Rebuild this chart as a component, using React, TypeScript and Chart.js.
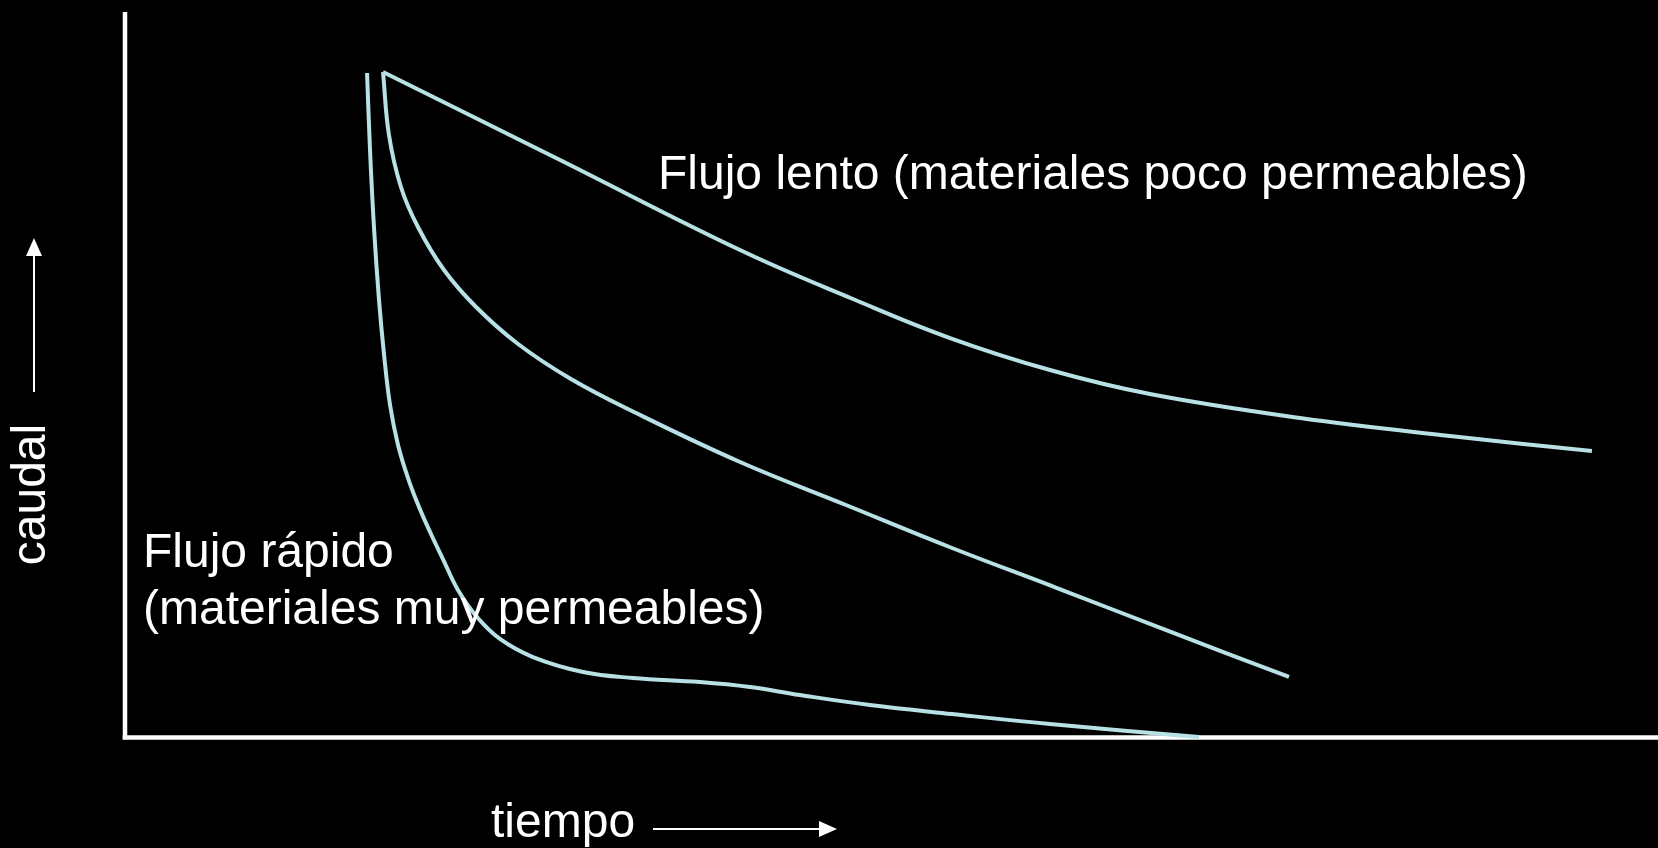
import React, { useEffect, useRef } from "react";
import { Chart, registerables } from "chart.js";

Chart.register(...registerables);

// Time (0-100) and flow (0-100) values
const slowTime = [16.83, 28.38, 40.12, 47.49, 53.82, 60.34, 66.86, 76.65, 86.43, 95.69];
const slowFlow = [91.72, 79.59, 67.17, 60.41, 55.03, 50.62, 47.31, 44.0, 41.52, 39.45];

const midTime = [16.83, 17.22, 18.0, 19.11, 20.81, 22.9, 25.64, 29.09, 33.2, 40.12, 47.03, 53.95, 60.8, 67.71, 75.93];
const midFlow = [91.72, 83.03, 75.86, 70.34, 64.41, 59.31, 54.21, 49.38, 44.83, 37.93, 32.0, 26.07, 20.55, 14.9, 8.28];

const fastTime = [15.79, 15.98, 16.24, 16.57, 16.9, 17.29, 17.81, 18.46, 19.18, 19.96, 20.74, 21.72, 22.96, 24.46, 26.61, 29.88, 33.14, 37.51, 40.77, 44.03, 48.6, 53.95, 60.34, 70.06];
const fastFlow = [91.59, 81.1, 70.34, 60.28, 52.69, 45.79, 40.28, 35.72, 31.72, 28.0, 24.55, 20.28, 16.55, 13.52, 11.03, 8.97, 8.14, 7.59, 6.9, 5.79, 4.41, 3.17, 1.79, 0.0];

const xAxisTitle = "tiempo";
const yAxisTitle = "caudal";
const slowNote = "Flujo lento (materiales poco permeables)";
const fastNote = ["Flujo rápido", "(materiales muy permeables)"];

const LINE_COLOR = "#b8e1e5";
const FONT = "48px 'Liberation Sans', Arial, sans-serif";

const toPoints = (xs: number[], ys: number[]) => xs.map((x, i) => ({ x, y: ys[i] }));

const decorPlugin = {
  id: "decor",
  beforeDatasetsDraw(chart: any) {
    const { ctx } = chart;
    const xs = chart.scales.x;
    const ys = chart.scales.y;
    const x0 = xs.getPixelForValue(0);
    const y0 = ys.getPixelForValue(0);
    const yTop = ys.getPixelForValue(100);
    const xRight = xs.getPixelForValue(100);
    ctx.save();
    ctx.strokeStyle = "#ffffff";
    ctx.lineWidth = 4.5;
    ctx.lineCap = "butt";
    ctx.beginPath();
    ctx.moveTo(x0, yTop);
    ctx.lineTo(x0, y0 + 2.25);
    ctx.stroke();
    ctx.beginPath();
    ctx.moveTo(x0 - 2.25, y0 + 0.5);
    ctx.lineTo(xRight, y0 + 0.5);
    ctx.stroke();
    ctx.restore();
  },
  afterDraw(chart: any) {
    const { ctx } = chart;
    ctx.save();
    ctx.fillStyle = "#ffffff";
    ctx.strokeStyle = "#ffffff";
    ctx.font = FONT;
    ctx.textBaseline = "alphabetic";
    ctx.textAlign = "left";

    // annotations
    ctx.fillText(slowNote, 658, 189);
    ctx.fillText(fastNote[0], 143, 567);
    ctx.fillText(fastNote[1], 143, 624);

    // x axis title + arrow
    ctx.fillText(xAxisTitle, 491, 837);
    ctx.lineWidth = 2;
    ctx.beginPath();
    ctx.moveTo(653, 829);
    ctx.lineTo(822, 829);
    ctx.stroke();
    ctx.beginPath();
    ctx.moveTo(837, 829);
    ctx.lineTo(819, 821);
    ctx.lineTo(819, 837);
    ctx.closePath();
    ctx.fill();

    // y axis title + arrow
    ctx.save();
    ctx.translate(45, 494.5);
    ctx.rotate(-Math.PI / 2);
    ctx.textAlign = "center";
    ctx.fillText(yAxisTitle, 0, 0);
    ctx.restore();
    ctx.beginPath();
    ctx.moveTo(34, 392);
    ctx.lineTo(34, 252);
    ctx.stroke();
    ctx.beginPath();
    ctx.moveTo(34, 238);
    ctx.lineTo(26, 256);
    ctx.lineTo(42, 256);
    ctx.closePath();
    ctx.fill();
    ctx.restore();
  },
};

export default function App() {
  const canvasRef = useRef<HTMLCanvasElement | null>(null);

  useEffect(() => {
    document.body.style.margin = "0";
    document.body.style.background = "#000";
    const canvas = canvasRef.current;
    if (!canvas) return;
    const ds = (xs: number[], ys: number[], label: string) => ({
      label,
      data: toPoints(xs, ys),
      borderColor: LINE_COLOR,
      borderWidth: 4,
      pointRadius: 0,
      tension: 0.4,
      borderCapStyle: "butt" as const,
      borderJoinStyle: "round" as const,
      fill: false,
      clip: false as any,
    });
    const chart = new Chart(canvas, {
      type: "line",
      data: {
        datasets: [
          ds(slowTime, slowFlow, "Flujo lento"),
          ds(midTime, midFlow, "Flujo intermedio"),
          ds(fastTime, fastFlow, "Flujo rápido"),
        ],
      },
      options: {
        animation: false,
        responsive: false,
        maintainAspectRatio: false,
        layout: { padding: { left: 125, top: 12, right: 0, bottom: 111 } },
        plugins: { legend: { display: false }, tooltip: { enabled: false } },
        scales: {
          x: { type: "linear", min: 0, max: 100, display: false },
          y: { type: "linear", min: 0, max: 100, display: false },
        },
      },
      plugins: [decorPlugin],
    });
    return () => chart.destroy();
  }, []);

  return (
    <div style={{ position: "fixed", left: 0, top: 0, width: 1658, height: 848, background: "#000" }}>
      <canvas ref={canvasRef} width={1658} height={848} style={{ display: "block" }} />
    </div>
  );
}
